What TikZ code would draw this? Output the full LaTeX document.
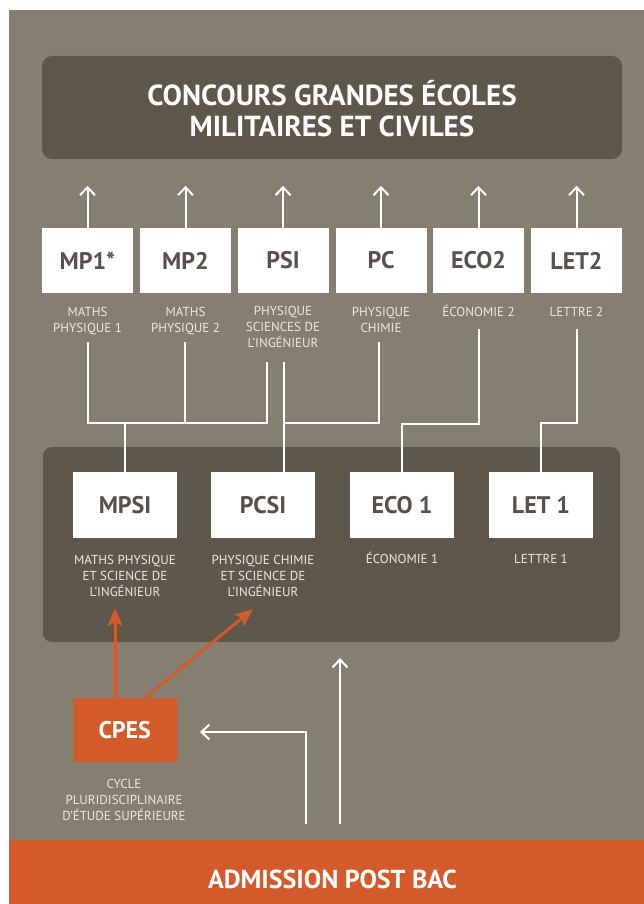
\documentclass[tikz,border=0pt]{standalone}
\usepackage{fontspec}
\setmainfont{PT Sans}
\usetikzlibrary{arrows.meta,calc}
\definecolor{bggrey}{HTML}{857F72}
\definecolor{darkbox}{HTML}{5E584C}
\definecolor{orng}{HTML}{D35B2B}
\definecolor{labtxt}{HTML}{ECE8E0}
\definecolor{boxtxt}{HTML}{57514A}
\tikzset{
  topbox/.style={fill=white, minimum width=91pt, minimum height=65pt, inner sep=0pt, text=boxtxt, font=\bfseries\fontsize{24}{24}\selectfont},
  midbox/.style={fill=white, minimum width=104pt, minimum height=66pt, inner sep=0pt, text=boxtxt, font=\bfseries\fontsize{24}{24}\selectfont},
  lab/.style={text=labtxt, align=center, inner sep=0pt, anchor=base, font=\fontsize{13}{16}\selectfont},
  wline/.style={draw=white, line width=2pt},
  warrow/.style={draw=white, line width=2pt, -{Straight Barb[length=8pt,width=15pt]}},
  oarrow/.style={draw=orng, line width=3pt, -{Stealth[length=18pt,width=15pt,inset=4pt]}},
}
\begin{document}
\begin{tikzpicture}[x=1pt,y=-1pt]
\useasboundingbox (0,0) rectangle (644,904);
\fill[white] (0,0) rectangle (644,904);
\fill[bggrey] (9,10) rectangle (644,904);
% top panel
\fill[darkbox, rounded corners=10pt] (42,56) rectangle (622,159);
\node[text=white, align=center, inner sep=0pt, anchor=base, font=\bfseries\fontsize{29}{31}\selectfont] (title) at (332,137) {CONCOURS GRANDES ÉCOLES\\MILITAIRES ET CIVILES};
% middle panel
\fill[darkbox, rounded corners=9pt] (43,447) rectangle (620,642);
% bottom bar
\fill[orng] (9,840) rectangle (644,904);
\node[text=white, inner sep=0pt, anchor=base, font=\bfseries\fontsize{26}{26}\selectfont] (apb) at (332.5,888) {ADMISSION POST BAC};
% top boxes
\node[topbox] (mp1) at (87.5,260.5) {MP1*};
\node[topbox] (mp2) at (185.5,260.5) {MP2};
\node[topbox] (psi) at (283,260.5) {PSI};
\node[topbox] (pc) at (381,260.5) {PC};
\node[topbox] (eco2) at (478.5,260.5) {ECO2};
\node[topbox] (let2) at (576.5,260.5) {LET2};
\node[lab] (mp1l) at (87.5,332) {MATHS\\PHYSIQUE 1};
\node[lab] (mp2l) at (185.5,332) {MATHS\\PHYSIQUE 2};
\node[lab] (psil) at (283,347.5) {PHYSIQUE\\SCIENCES DE\\L’INGÉNIEUR};
\node[lab] (pcl) at (381,332) {PHYSIQUE\\CHIMIE};
\node[lab] (eco2l) at (478.5,316) {ÉCONOMIE 2};
\node[lab] (let2l) at (576.5,316.5) {LETTRE 2};
% arrows to concours
\foreach \n in {mp1,mp2,psi,pc,eco2,let2}{
  \draw[warrow] (\n.north) -- ++(0,-42);
}
% middle boxes
\node[midbox] (mpsi) at (125,505) {MPSI};
\node[midbox] (pcsi) at (263,505) {PCSI};
\node[midbox] (eco1) at (402,505) {ECO 1};
\node[midbox] (let1) at (541,505) {LET 1};
\node[lab] (mpsil) at (125,596) {MATHS PHYSIQUE\\ET SCIENCE DE\\L’INGÉNIEUR};
\node[lab] (pcsil) at (263,596) {PHYSIQUE CHIMIE\\ET SCIENCE DE\\L’INGÉNIEUR};
\node[lab] (eco1l) at (402,563.5) {ÉCONOMIE 1};
\node[lab] (let1l) at (541,563.5) {LETTRE 1};
% connector coordinates
\coordinate (a1) at (87.5,342);
\coordinate (a2) at (185,342);
\coordinate (a3) at (267,362);
\coordinate (a4) at (284,362);
\coordinate (a5) at (379,342);
\coordinate (a6) at (478.5,329);
\coordinate (a7) at (576.5,329);
\coordinate (jm) at (124.5,423);
\coordinate (jl) at (540.5,423);
\draw[wline] (a1) |- (jm) -| (a3);
\draw[wline] (a2) -- (a2 |- jm);
\draw[wline] (jm) -- (mpsi.north -| jm);
\draw[wline] (a4) -- (a4 |- pcsi.north);
\draw[wline] (a5) |- (a4 |- jm);
\draw[wline] (a6) |- (eco1.north |- 0,423.5) -- (eco1.north);
\draw[wline] (a7) |- (jl) -- (jl |- let1.north);
% CPES
\node[fill=orng, minimum width=104pt, minimum height=64pt, inner sep=0pt, text=white, font=\bfseries\fontsize{24}{24}\selectfont] (cpes) at (124.7,730) {CPES};
\node[lab] (cpesl) at (124,820) {CYCLE\\PLURIDISCIPLINAIRE\\D’ÉTUDE SUPÉRIEURE};
\coordinate (o1) at (115,608);
\coordinate (o2) at (253,609);
\draw[oarrow] (cpes.north -| o1) -- (o1);
\draw[oarrow] (cpes.north -| 145,0) -- (o2);
% white arrows from admission
\coordinate (b1) at (306,824);
\coordinate (b2) at (340,824);
\coordinate (c1) at (200,732);
\coordinate (c2) at (340,658);
\draw[warrow] (b1) |- (c1);
\draw[warrow] (b2) -- (c2);
\end{tikzpicture}
\end{document}
